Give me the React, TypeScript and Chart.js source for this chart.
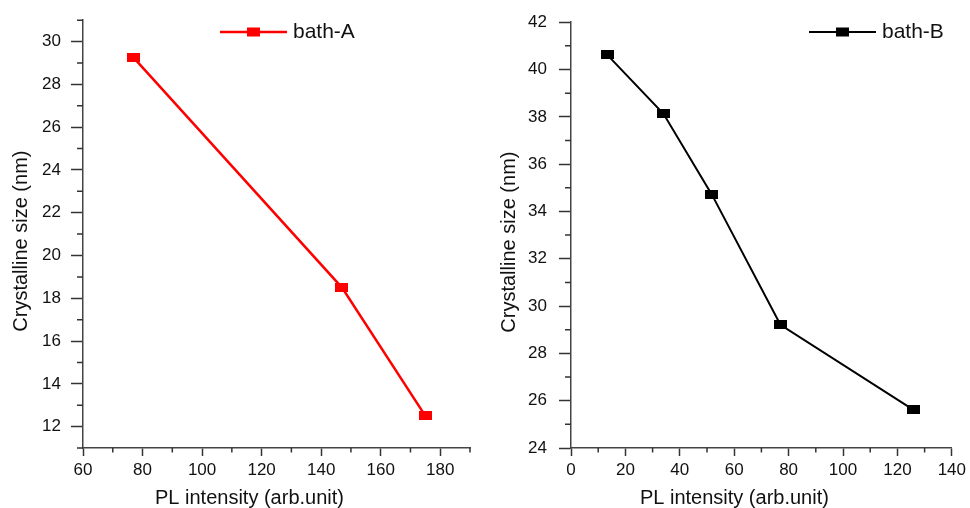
import React, { useEffect, useRef } from 'react';
import { Chart, registerables } from 'chart.js';

Chart.register(...registerables);

// ---- data ----
const labelA = 'bath-A';
const xA = [77, 147, 175];
const yA = [29.25, 18.5, 12.5];

const labelB = 'bath-B';
const xB = [13.25, 34, 51.8, 77, 125.9];
const yB = [40.63, 38.13, 34.71, 29.21, 25.61];

const xTicksA = [60, 80, 100, 120, 140, 160, 180];
const xMinorA = [70, 90, 110, 130, 150, 170, 190];
const yTicksA = [12, 14, 16, 18, 20, 22, 24, 26, 28, 30];
const yMinorA = [11, 13, 15, 17, 19, 21, 23, 25, 27, 29, 31];

const xTicksB = [0, 20, 40, 60, 80, 100, 120, 140];
const xMinorB = [10, 30, 50, 70, 90, 110, 130];
const yTicksB = [24, 26, 28, 30, 32, 34, 36, 38, 40, 42];
const yMinorB = [25, 27, 29, 31, 33, 35, 37, 39, 41];

const xTitle = 'PL intensity (arb.unit)';
const yTitle = 'Crystalline size (nm)';

const FONT = '"Liberation Sans", Arial, Helvetica, sans-serif';
const TEXT = '#111111';
const AXIS = '#444444';
const TICK = '#333333';

const decorPlugin = {
  id: 'decor',
  afterDraw(chart: any, _args: any, opts: any) {
    const ctx = chart.ctx as CanvasRenderingContext2D;
    const xs = chart.scales.x;
    const ys = chart.scales.y;
    const ca = chart.chartArea;
    ctx.save();
    // minor ticks
    ctx.strokeStyle = TICK;
    ctx.lineWidth = 1.5;
    ctx.beginPath();
    for (const v of opts.xMinor) {
      const px = xs.getPixelForValue(v);
      ctx.moveTo(px, ca.bottom);
      ctx.lineTo(px, ca.bottom + 4.5);
    }
    for (const v of opts.yMinor) {
      const py = ys.getPixelForValue(v);
      ctx.moveTo(ca.left, py);
      ctx.lineTo(ca.left - 6, py);
    }
    ctx.stroke();

    // axis titles
    ctx.fillStyle = TEXT;
    ctx.font = `20px ${FONT}`;
    ctx.textAlign = 'center';
    ctx.textBaseline = 'alphabetic';
    ctx.fillText(opts.xTitle, (ca.left + ca.right) / 2 - 27, 504);
    ctx.save();
    ctx.translate(ca.left - 56, (ca.top + ca.bottom) / 2 + 7);
    ctx.rotate(-Math.PI / 2);
    ctx.fillText(opts.yTitle, 0, 0);
    ctx.restore();

    // legend
    const ds = chart.data.datasets[0];
    const lx = ca.left + opts.legendOffset;
    const ly = 32;
    ctx.strokeStyle = ds.borderColor;
    ctx.lineWidth = ds.borderWidth;
    ctx.beginPath();
    ctx.moveTo(lx, ly);
    ctx.lineTo(lx + 67, ly);
    ctx.stroke();
    ctx.fillStyle = ds.borderColor;
    ctx.fillRect(lx + 33.5 - 6.5, ly - 4.5, 13, 9);
    ctx.fillStyle = TEXT;
    ctx.font = `21px ${FONT}`;
    ctx.textAlign = 'left';
    ctx.fillText(ds.label, lx + 73, 37.5);
    ctx.restore();
  },
};

function makeMarker(color: string) {
  const c = document.createElement('canvas');
  c.width = 13;
  c.height = 9;
  const g = c.getContext('2d')!;
  g.fillStyle = color;
  g.fillRect(0, 0, 13, 9);
  return c;
}

function buildConfig(p: {
  label: string; xs: number[]; ys: number[]; color: string; width: number;
  xMin: number; xMax: number; yMin: number; yMax: number;
  xTicks: number[]; yTicks: number[]; xMinor: number[]; yMinor: number[];
  axisW: number; padRight: number; yPad: number; legendOffset: number;
}) {
  return {
    type: 'line',
    data: {
      datasets: [
        {
          label: p.label,
          data: p.xs.map((x, i) => ({ x, y: p.ys[i] })),
          borderColor: p.color,
          backgroundColor: p.color,
          borderWidth: p.width,
          pointStyle: makeMarker(p.color),
          pointRadius: 7,
          tension: 0,
          fill: false,
        },
      ],
    },
    options: {
      animation: false,
      responsive: false,
      maintainAspectRatio: false,
      layout: { padding: { top: 19, right: p.padRight, left: 0, bottom: 0 } },
      plugins: {
        legend: { display: false },
        tooltip: { enabled: false },
        decor: {
          xMinor: p.xMinor, yMinor: p.yMinor, xTitle, yTitle,
          legendOffset: p.legendOffset,
        },
      },
      scales: {
        x: {
          type: 'linear',
          min: p.xMin,
          max: p.xMax,
          afterBuildTicks: (s: any) => { s.ticks = p.xTicks.map((v) => ({ value: v })); },
          afterFit: (s: any) => { s.height = 60; },
          grid: { drawOnChartArea: false, drawTicks: true, tickLength: 8, tickWidth: 1.5, tickColor: TICK },
          border: { color: AXIS, width: 1.5 },
          ticks: { font: { size: 17, family: FONT }, color: TEXT, padding: 4, maxRotation: 0, autoSkip: false },
        },
        y: {
          type: 'linear',
          min: p.yMin,
          max: p.yMax,
          afterBuildTicks: (s: any) => { s.ticks = p.yTicks.map((v) => ({ value: v })); },
          afterFit: (s: any) => { s.width = p.axisW; },
          grid: { drawOnChartArea: false, drawTicks: true, tickLength: 12, tickWidth: 1.5, tickColor: TICK },
          border: { color: AXIS, width: 1.5 },
          ticks: { font: { size: 17, family: FONT }, color: TEXT, padding: p.yPad, autoSkip: false },
        },
      },
    },
    plugins: [decorPlugin],
  } as any;
}

export default function App() {
  const refA = useRef<HTMLCanvasElement>(null);
  const refB = useRef<HTMLCanvasElement>(null);

  useEffect(() => {
    const a = new Chart(refA.current!, buildConfig({
      label: labelA, xs: xA, ys: yA, color: '#ff0000', width: 2.5,
      xMin: 60, xMax: 190, yMin: 11, yMax: 31,
      xTicks: xTicksA, yTicks: yTicksA, xMinor: xMinorA, yMinor: yMinorA,
      axisW: 83, padRight: 15, yPad: 10, legendOffset: 137,
    }));
    const b = new Chart(refB.current!, buildConfig({
      label: labelB, xs: xB, ys: yB, color: '#000000', width: 2,
      xMin: 0, xMax: 140, yMin: 24, yMax: 42,
      xTicks: xTicksB, yTicks: yTicksB, xMinor: xMinorB, yMinor: yMinorB,
      axisW: 86, padRight: 12, yPad: 12, legendOffset: 238,
    }));
    return () => { a.destroy(); b.destroy(); };
  }, []);

  return (
    <div style={{ position: 'absolute', left: 0, top: 0, width: 970, height: 508, background: '#fff' }}>
      <canvas ref={refA} width={485} height={508} style={{ position: 'absolute', left: 0, top: 0, width: 485, height: 508 }} />
      <canvas ref={refB} width={485} height={508} style={{ position: 'absolute', left: 485, top: 0, width: 485, height: 508 }} />
    </div>
  );
}
